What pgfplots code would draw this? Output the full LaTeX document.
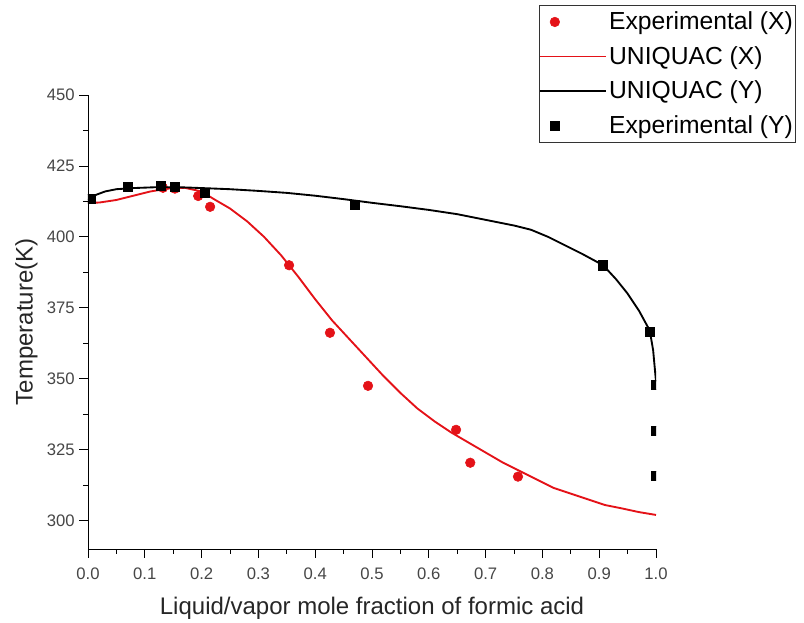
\documentclass[border=0pt]{standalone}
\usepackage{pgfplots}
\pgfplotsset{compat=1.18}
\usepackage{fontspec}
\setmainfont{Liberation Sans}
\definecolor{myred}{RGB}{228,18,24}
\definecolor{ticklab}{RGB}{70,70,70}
\pgfplotsset{legend image code/.code={\draw[mark indices={2},#1] plot coordinates {(0pt,0pt) (11pt,0pt) (49pt,0pt)};}}
\begin{document}
\begin{tikzpicture}
\useasboundingbox (-66pt,-55.5pt) rectangle (537pt,411.75pt);
\begin{axis}[
  at={(0pt,0pt)}, anchor=origin,
  scale only axis,
  width=426pt, height=340.5pt,
  xmin=0, xmax=1, ymin=290, ymax=450,
  axis x line*=bottom, axis y line*=left,
  axis line style={-, black, line width=0.6pt},
  xtick={0,0.1,...,1.0},
  xticklabels={0.0,0.1,0.2,0.3,0.4,0.5,0.6,0.7,0.8,0.9,1.0},
  ytick={300,325,350,375,400,425,450},
  minor x tick num=1, minor y tick num=1,
  tick align=outside,
  major tick length=6.5pt, minor tick length=3.5pt,
  tick style={black, line width=0.6pt},
  /pgf/number format/assume math mode=true,
  ticklabel style={font=\fontsize{12.5}{14}\selectfont, text=ticklab},
  xticklabel style={yshift=-4pt},
  xlabel={Liquid/vapor mole fraction of formic acid},
  ylabel={Temperature(K)},
  label style={font=\fontsize{18}{20}\selectfont, text=black!85},
  xlabel style={yshift=-6pt},
  ylabel style={yshift=0pt},
  clip marker paths=true,
  legend cell align=left,
  legend style={at={(0.794,1.198)}, anchor=north west, draw=black!80,
    font=\fontsize{18.5}{21}\selectfont, row sep=7pt, inner xsep=0pt, inner ysep=3pt,
    nodes={inner xsep=2pt}},
]
\addplot[only marks, mark=*, mark size=3.6pt, color=myred]
  coordinates {
  (0.132,417.3) (0.153,417.0) (0.194,414.4) (0.215,410.6) (0.354,390.0)
  (0.426,366.2) (0.493,347.5) (0.648,332.0) (0.673,320.4) (0.757,315.5)
  };
\addlegendentry{Experimental (X)}
\addplot[no marks, color=myred, line width=1.4pt] coordinates {
  (0,412)(0.02,412.1)(0.05,413)(0.08,414.5)(0.11,416)(0.14,417)(0.17,417.3)
  (0.2,416)(0.22,413.5)(0.25,410)(0.28,405.5)(0.31,400)(0.34,393.5)(0.37,386)
  (0.40,378)(0.43,370.5)(0.46,364)(0.49,357.5)(0.52,351)(0.55,345)(0.58,339.5)
  (0.61,335)(0.64,331)(0.67,327.5)(0.70,324)(0.73,320.5)(0.76,317.5)(0.79,314.5)
  (0.82,311.5)(0.85,309.5)(0.88,307.5)(0.91,305.5)(0.94,304.3)(0.97,303)(1.0,302)
  };
\addlegendentry{UNIQUAC (X)}
\addplot[no marks, color=black, line width=1.4pt] coordinates {
  (0,413)(0.01,414.5)(0.03,416)(0.05,416.8)(0.08,417.2)(0.12,417.5)(0.16,417.5)
  (0.2,417.2)(0.25,416.8)(0.3,416.2)(0.35,415.5)(0.4,414.5)(0.45,413.3)(0.5,412)
  (0.55,410.8)(0.6,409.5)(0.65,408)(0.7,406)(0.75,404)(0.78,402.5)(0.81,400)
  (0.84,397)(0.87,394)(0.907,390)(0.93,385)(0.95,380)(0.97,374)(0.989,367)
  (0.995,360)(1.0,349)
  };
\addlegendentry{UNIQUAC (Y)}
\addplot[only marks, mark=square*, mark size=3.4pt, color=black]
  coordinates {
  (0.004,413.4) (0.07,417.6) (0.128,418.0) (0.153,417.6) (0.206,415.5)
  (0.47,411.3) (0.907,390.0) (0.989,366.6)
  (1.0,347.8) (1.0,331.7) (1.0,315.9)
  };
\addlegendentry{Experimental (Y)}
\end{axis}
\end{tikzpicture}
\end{document}
